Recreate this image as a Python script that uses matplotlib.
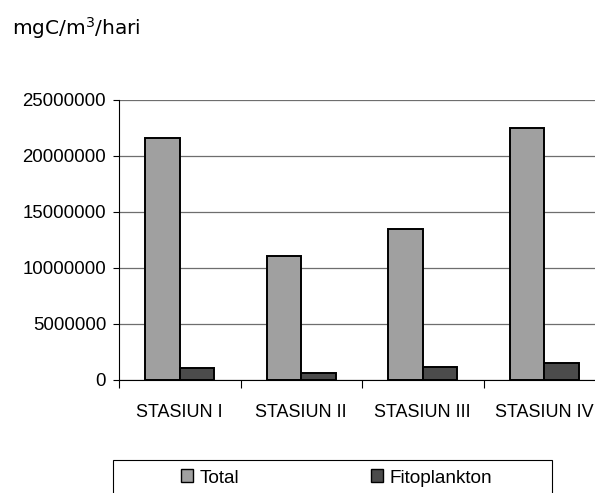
import matplotlib
matplotlib.use("Agg")
import matplotlib.pyplot as plt
from matplotlib.patches import Rectangle, Patch
import numpy as np

categories = ["STASIUN I", "STASIUN II", "STASIUN III", "STASIUN IV"]
total = [21600000, 11050000, 13500000, 22500000]
fitoplankton = [1050000, 600000, 1200000, 1550000]
series_names = ["Total", "Fitoplankton"]
y_ticks = [0, 5000000, 10000000, 15000000, 20000000, 25000000]

W, H = 595, 493
fig = plt.figure(figsize=(W / 100, H / 100), dpi=100)
fig.patch.set_facecolor("white")

ax = fig.add_axes([119 / W, 1 - 380 / H, 486 / W, 280 / H])

x = np.arange(len(categories))
w = 0.2857
c_total = "#A0A0A0"
c_fito = "#4B4B4B"
ax.bar(x - w / 2, total, width=w, color=c_total, edgecolor="black", linewidth=1.4, zorder=3)
ax.bar(x + w / 2, fitoplankton, width=w, color=c_fito, edgecolor="black", linewidth=1.4, zorder=3)

ax.set_xlim(-0.5, len(categories) - 0.5)
ax.set_ylim(0, 25000000)
ax.set_yticks(y_ticks)
ax.set_yticklabels([str(v) for v in y_ticks], family="Liberation Sans", fontsize=13.4)
ax.yaxis.grid(True, color="#6e6e6e", linewidth=0.9, zorder=0)
ax.set_axisbelow(True)

ax.set_xticks(x)
ax.set_xticklabels(categories, family="Liberation Sans", fontsize=13)
ax.set_xticks(np.arange(-0.5, len(categories), 1.0), minor=True)
ax.tick_params(axis="x", which="major", length=0, pad=17.5)
ax.tick_params(axis="x", which="minor", length=5.8, width=0.8, direction="out", color="black")
ax.tick_params(axis="y", length=4.3, width=0.8, direction="out", pad=5, color="black")

for s in ["top", "right"]:
    ax.spines[s].set_visible(False)
for s in ["left", "bottom"]:
    ax.spines[s].set_color("black")
    ax.spines[s].set_linewidth(0.8)

fig.text(12 / W, 1 - 35 / H, "mgC/m$^3$/hari", family="DejaVu Sans", fontsize=14.5,
         ha="left", va="baseline")

# legend frame
fig.add_artist(Rectangle((113 / W, 1 - 500 / H), (552 - 113) / W, 40 / H,
                         transform=fig.transFigure, facecolor="white",
                         edgecolor="black", linewidth=0.8))
handles = [Patch(facecolor=c_total, edgecolor="black", linewidth=1.0),
           Patch(facecolor=c_fito, edgecolor="black", linewidth=1.0)]
fig.legend(handles, series_names, loc="center left",
           bbox_to_anchor=(181 / W, 1 - 478 / H), ncol=2, frameon=False,
           prop={"family": "Liberation Sans", "size": 13.7},
           handlelength=0.65, handleheight=0.65, handletextpad=0.35,
           columnspacing=6.9, borderpad=0, borderaxespad=0)

fig.savefig("out.png", dpi=100, facecolor="white")
